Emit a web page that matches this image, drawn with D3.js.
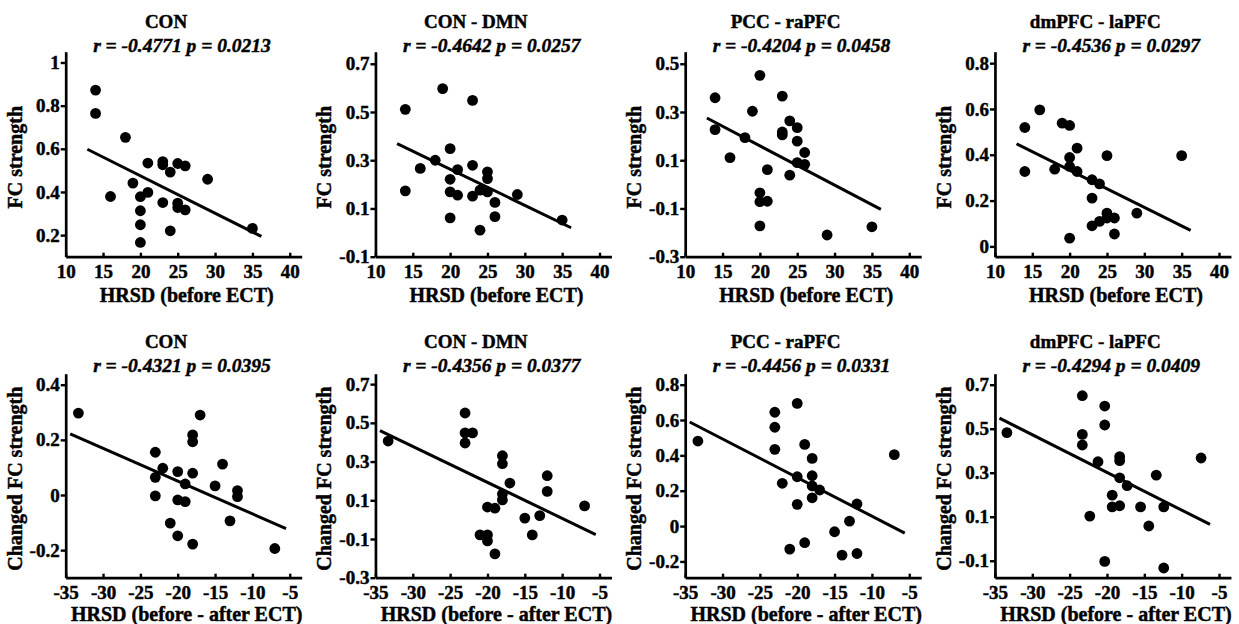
<!DOCTYPE html>
<html>
<head>
<meta charset="utf-8">
<script src="https://cdn.jsdelivr.net/npm/d3@7"></script>
<style>
  html, body { margin: 0; padding: 0; background: #fff; }
  svg { display: block; }
</style>
</head>
<body>
<svg id="chart" width="1239" height="624"></svg>
<script>
// ---------------- DATA ----------------
const titles = ["CON", "CON - DMN", "PCC - raPFC", "dmPFC - laPFC"];
const topStats = ["r = -0.4771 p = 0.0213", "r = -0.4642 p = 0.0257", "r = -0.4204 p = 0.0458", "r = -0.4536 p = 0.0297"];
const bottomStats = ["r = -0.4321 p = 0.0395", "r = -0.4356 p = 0.0377", "r = -0.4456 p = 0.0331", "r = -0.4294 p = 0.0409"];

// Top row: HRSD before ECT vs FC strength
const hrsdBefore = [14,14,16,18,19,20,20,20,20,21,21,23,23,23,24,24,25,25,25,26,26,29,35];
const fcCON    = [0.872,0.764,0.379,0.653,0.441,0.378,0.313,0.248,0.166,0.534,0.398,0.541,0.526,0.351,0.492,0.220,0.532,0.348,0.328,0.521,0.317,0.459,0.231];
const fcCONDMN = [0.511,0.173,0.266,0.300,0.597,0.348,0.221,0.169,0.061,0.261,0.155,0.548,0.279,0.151,0.176,0.010,0.252,0.224,0.169,0.125,0.066,0.158,0.052];
const fcPCC    = [0.359,0.227,0.111,0.194,0.303,0.452,-0.035,-0.072,-0.172,0.061,-0.070,0.366,0.217,0.205,0.263,0.038,0.235,0.179,0.090,0.132,0.083,-0.210,-0.176];
const fcDMPFC  = [0.519,0.327,0.596,0.337,0.538,0.528,0.388,0.349,0.036,0.429,0.327,0.291,0.211,0.090,0.273,0.109,0.396,0.145,0.124,0.124,0.054,0.145,0.396];

// Bottom row: HRSD (before - after ECT) vs changed FC strength
const hrsdDiff  = [-33.3,-23,-23,-23,-22,-21,-20,-20,-20,-19,-19,-18,-18,-18,-18,-17,-15,-14,-13,-12,-12,-7];
const hrsdDiff4 = [-33.4,-23.3,-23.3,-23.3,-22.3,-21.2,-20.3,-20.3,-20.3,-19.3,-19.3,-18.3,-18.3,-18.3,-18.3,-17.3,-15.5,-14.4,-13.4,-12.4,-12.4,-7.4];
const dCON    = [0.297,0.155,0.064,-0.003,0.097,-0.102,0.085,-0.018,-0.148,0.040,-0.024,0.218,0.193,0.079,-0.178,0.290,0.033,0.112,-0.094,0.016,-0.006,-0.194];
const dCONDMN = [0.406,0.551,0.448,0.396,0.448,-0.079,0.065,-0.079,-0.110,0.059,-0.177,0.330,0.289,0.132,0.102,0.189,0.008,-0.079,0.021,0.227,0.146,0.071];
const dPCC    = [0.481,0.644,0.559,0.434,0.242,-0.130,0.694,0.279,0.123,0.462,-0.094,0.383,0.285,0.227,0.160,0.204,-0.032,-0.164,0.028,0.125,-0.155,0.404];
const dDMPFC  = [0.482,0.650,0.474,0.426,0.103,0.350,0.603,0.517,-0.103,0.198,0.145,0.373,0.355,0.277,0.150,0.241,0.145,0.058,0.289,0.145,-0.133,0.367];

// Fitted regression lines (endpoints as drawn)
const topLineX = [12.9, 36.2];
const topLineY = [[0.598,0.194],[0.369,0.020],[0.275,-0.104],[0.448,0.070]];
const bottomLineX = [[-34.4,-5.5],[-34.4,-5.5],[-34.4,-5.6],[-34.4,-6.2]];
const bottomLineY = [[0.222,-0.122],[0.460,-0.077],[0.589,-0.040],[0.548,0.065]];

// Axis domains and ticks
const topXDomain = [10, 41.6];
const topXTicks = [10,15,20,25,30,35,40];
const bottomXDomain = [-35, -3.4];
const bottomXTicks = [-35,-30,-25,-20,-15,-10,-5];
const topYDomains = [[0.1,1.05],[-0.1,0.75],[-0.3,0.55],[-0.045,0.85]];
const topYTicks = [[0.2,0.4,0.6,0.8,1],[-0.1,0.1,0.3,0.5,0.7],[-0.3,-0.1,0.1,0.3,0.5],[0,0.2,0.4,0.6,0.8]];
const bottomYDomains = [[-0.3,0.44],[-0.3,0.754],[-0.292,0.862],[-0.177,0.75]];
const bottomYTicks = [[-0.2,0,0.2,0.4],[-0.3,-0.1,0.1,0.3,0.5,0.7],[-0.2,0,0.2,0.4,0.6,0.8],[-0.1,0.1,0.3,0.5,0.7]];

const topXLabel = "HRSD (before ECT)";
const bottomXLabel = "HRSD (before - after ECT)";
const topYLabel = "FC strength";
const bottomYLabel = "Changed FC strength";

// ---------------- LAYOUT ----------------
const FONT = '"Liberation Serif", "Times New Roman", serif';
const svg = d3.select("#chart");
const colStep = 309.75;
const plotLeft0 = 65.7;
const plotW = 236;
const rows = [
  { top: 51.7, h: 205, xDomain: topXDomain, xTicks: topXTicks, xLabel: topXLabel, yLabel: topYLabel,
    stats: topStats, yDomains: topYDomains, yTicks: topYTicks,
    xs: [hrsdBefore, hrsdBefore, hrsdBefore, hrsdBefore], ys: [fcCON, fcCONDMN, fcPCC, fcDMPFC],
    lineX: [topLineX, topLineX, topLineX, topLineX], lineY: topLineY, titleOff: 24, statOff: 0, labelOff: 45 },
  { top: 373.7, h: 204, xDomain: bottomXDomain, xTicks: bottomXTicks, xLabel: bottomXLabel, yLabel: bottomYLabel,
    stats: bottomStats, yDomains: bottomYDomains, yTicks: bottomYTicks,
    xs: [hrsdDiff, hrsdDiff, hrsdDiff, hrsdDiff4], ys: [dCON, dCONDMN, dPCC, dDMPFC],
    lineX: bottomLineX, lineY: bottomLineY, titleOff: 26, statOff: 1.5, labelOff: 43 }
];

const fmt = d => String(+d.toFixed(2));

function styleText(sel, size, italic) {
  sel.style("font-family", FONT).style("font-weight", "bold")
     .style("font-size", size + "px").style("font-style", italic ? "italic" : "normal")
     .attr("fill", "#000").attr("stroke", "#000").attr("stroke-width", 0.45);
  return sel;
}

rows.forEach(row => {
  for (let c = 0; c < 4; c++) {
    const panelX = c * colStep;
    const left = panelX + plotLeft0;
    const x = d3.scaleLinear().domain(row.xDomain).range([left, left + plotW]);
    const y = d3.scaleLinear().domain(row.yDomains[c]).range([row.top + row.h, row.top]);
    const g = svg.append("g");

    // Titles
    styleText(g.append("text").attr("x", panelX + 166).attr("y", row.top - row.titleOff)
      .attr("text-anchor", "middle").text(titles[c]), 19, false);
    styleText(g.append("text").attr("x", panelX + 182).attr("y", row.top - row.statOff)
      .attr("text-anchor", "middle").text(row.stats[c]), 19.5, true);

    // Axes
    const xAxis = d3.axisBottom(x).tickValues(row.xTicks).tickFormat(fmt)
      .tickSize(-4).tickSizeOuter(0).tickPadding(7);
    const xg = g.append("g").attr("transform", `translate(0,${row.top + row.h})`).call(xAxis);
    const yAxis = d3.axisLeft(y).tickValues(row.yTicks[c]).tickFormat(fmt)
      .tickSize(5).tickSizeOuter(0).tickPadding(1);
    const yg = g.append("g").attr("transform", `translate(${left},0)`).call(yAxis);
    [xg, yg].forEach(a => {
      a.attr("font-family", null).attr("font-size", null);
      a.select(".domain").attr("stroke", "#000").attr("stroke-width", 2.7);
      a.selectAll(".tick line").attr("stroke", "#000").attr("stroke-width", 2.4);
      styleText(a.selectAll(".tick text"), 19, false);
    });
    xg.selectAll(".tick text").attr("y", 8);

    // Axis labels
    styleText(g.append("text").attr("x", left + plotW / 2 + 3).attr("y", row.top + row.h + row.labelOff)
      .attr("text-anchor", "middle").text(row.xLabel), 20, false);
    styleText(g.append("text")
      .attr("transform", `translate(${panelX + 21.5},${row.top + row.h / 2 + 3}) rotate(-90)`)
      .attr("text-anchor", "middle").text(row.yLabel), 20, false);

    // Points
    const pts = row.xs[c].map((v, i) => [v, row.ys[c][i]]);
    g.append("g").selectAll("circle").data(pts).join("circle")
      .attr("cx", d => x(d[0])).attr("cy", d => y(d[1])).attr("r", 5.4).attr("fill", "#000");

    // Regression line
    const lineData = row.lineX[c].map((v, i) => [v, row.lineY[c][i]]);
    g.append("path").datum(lineData)
      .attr("d", d3.line().x(d => x(d[0])).y(d => y(d[1])))
      .attr("stroke", "#000").attr("stroke-width", 3).attr("fill", "none");
  }
});
</script>
</body>
</html>
